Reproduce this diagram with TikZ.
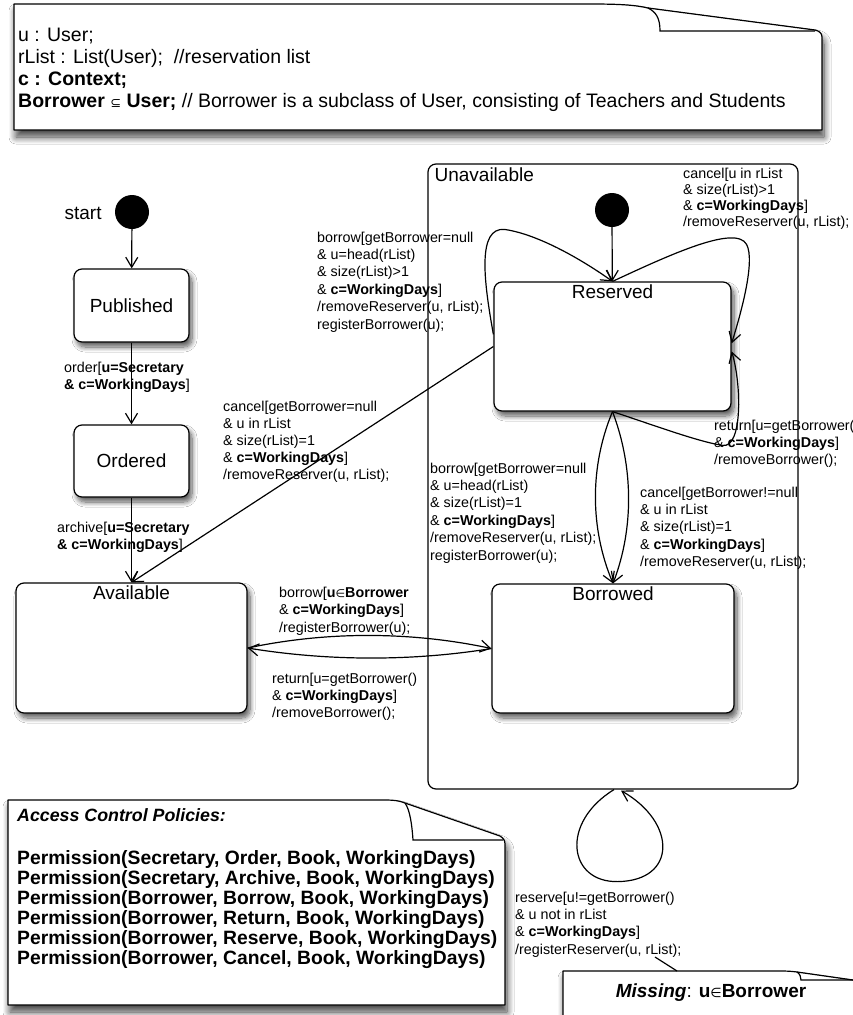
\documentclass[tikz,border=0pt]{standalone}
\usepackage{fontspec}
\setmainfont{Liberation Sans}
\newfontfamily\djv{DejaVu Sans}
\usetikzlibrary{arrows.meta,shadows.blur,calc}
\newcommand{\cwd}{\textbf{c=WorkingDays}}
\newcommand{\elem}{{\mdseries\djv\fontsize{11}{11}\selectfont ∈}}
\begin{document}
\begin{tikzpicture}[x=1pt,y=-1pt,
  lw/.style={line width=1.2pt},
  shad/.style={blur shadow={shadow xshift=3pt, shadow yshift=-5pt, shadow blur radius=5pt, shadow blur steps=10, shadow opacity=65}},
  noteshad/.style={blur shadow={shadow xshift=2pt, shadow yshift=-7pt, shadow blur radius=7pt, shadow blur steps=10, shadow opacity=75}},
  statebox/.style={draw, lw, rounded corners=8pt, fill=white, shad, font=\fontsize{19}{22}\selectfont},
  toplabel/.style={label={[anchor=north, inner sep=0pt, yshift=-3.5pt, font=\fontsize{19}{22}\selectfont]north:#1}},
  initdot/.style={circle, fill=black, minimum size=34pt, inner sep=0pt},
  arr/.style={lw, -{Straight Barb[length=10pt,width=12pt]}},
  lbl/.style={font=\fontsize{14.3}{17.4}\selectfont, align=left, anchor=north west, inner sep=0pt},
  notebox/.style={lw, fill=white, noteshad, line join=round}]
\useasboundingbox (0,0) rectangle (853,1015);
\clip (0,0) rectangle (853,1015);
\fill[white] (0,0) rectangle (853,1015);

% top note
\draw[notebox] (14,4) -- (590,4) .. controls (620,4) and (635,5) .. (648,8) -- (815,30) .. controls (819,31) and (822,33) .. (822,37) -- (822,130) -- (14,130) -- cycle;
\draw[lw] (648,8) .. controls (656,12) and (660,18) .. (660,31) -- (815,31);
\node[anchor=north west, inner sep=0pt, align=left, font=\fontsize{19.5}{21.7}\selectfont] (decl) at (18,28.3)
 {u : User;\\
  rList : List(User);\ \ //reservation list\\
  \textbf{c : Context;}\\
  \textbf{Borrower} {\djv\fontsize{13}{13}\selectfont ⊆} \textbf{User;} // Borrower is a subclass of User, consisting of Teachers and Students};

% composite state
\node[draw, lw, rounded corners=8pt, minimum width=370pt, minimum height=625pt, inner sep=0pt] (unav) at (613,476.5) {};
\node[anchor=north west, inner sep=0pt, font=\fontsize{19}{22}\selectfont] (unavlbl) at ($(unav.north west)+(7,4)$) {Unavailable};

% states
\node[initdot] (start) at (132,212) {};
\node[anchor=east, inner sep=0pt, font=\fontsize{19}{22}\selectfont] (startlbl) at ($(start.west)+(-13,1)$) {start};
\node[statebox, minimum width=115pt, minimum height=73pt] (pub) at (131.5,305.5) {Published};
\node[statebox, minimum width=115pt, minimum height=72pt] (ord) at (131.5,461) {Ordered};
\node[statebox, minimum width=231pt, minimum height=130pt, toplabel=Available] (avail) at (131.5,648) {};
\node[initdot] (init) at (612,210) {};
\node[statebox, minimum width=237pt, minimum height=129pt, toplabel=Reserved] (res) at (612.5,346.5) {};
\node[statebox, minimum width=242pt, minimum height=129pt, toplabel=Borrowed] (bor) at (613,648.5) {};

% transitions
\draw[arr] (start) -- (pub);
\draw[arr] (pub) -- (ord);
\draw[arr] (ord) -- (avail);
\draw[arr] (res.west) -- (avail.north);
\draw[arr] (init) -- (res);
\draw[arr] ($(res.north west)+(0,53)$) .. controls ($(res.north west)+(-10,-2)$) and ($(res.north west)+(-16,-54)$) .. ($(res.north west)+(11,-52)$) .. controls ($(res.north west)+(46,-47)$) and ($(res.north west)+(91,-20)$) .. (res.north);
\draw[arr] (res.north) .. controls ($(res.north east)+(-61,-27)$) and ($(res.north east)+(4,-57)$) .. ($(res.north east)+(15,-37)$) .. controls ($(res.north east)+(24,-20)$) and ($(res.north east)+(9,33)$) .. ($(res.north east)+(0,62)$);
\draw[arr] (res.south) .. controls ($(res.south)+(42.5,14)$) and ($(res.south)+(85.5,30)$) .. ($(res.north east)+(-9,164)$) .. controls ($(res.north east)+(11,167)$) and ($(res.north east)+(10,103)$) .. ($(res.north east)+(0,70)$);
\draw[arr] (res.south) .. controls +(-23,55) and +(-23,-55) .. (bor.north);
\draw[arr] (res.south) .. controls +(21,55) and +(21,-55) .. (bor.north);
\draw[arr] (avail.east) .. controls +(80,-17) and +(-80,-17) .. (bor.west);
\draw[arr] (bor.west) .. controls +(-80,13) and +(80,13) .. (avail.east);
\draw[arr] ($(unav.south)+(1,0)$) .. controls ($(unav.south)+(-53,33)$) and ($(unav.south)+(-45,93)$) .. ($(unav.south)+(5,92)$) .. controls ($(unav.south)+(64,91)$) and ($(unav.south)+(64,33)$) .. ($(unav.south)+(8,1)$);

% labels
\node[lbl] (lorder) at (64,361.5) {order[\textbf{u=Secretary}\\\textbf{\& c=WorkingDays}]};
\node[lbl] (larch) at (57,521.5) {archive[\textbf{u=Secretary}\\\textbf{\& c=WorkingDays}]};
\node[lbl] (lborrowloop) at (317,231.5) {borrow[getBorrower=null\\\& u=head(rList)\\\& size(rList)>1\\\& \cwd]\\/removeReserver(u, rList);\\registerBorrower(u);};
\node[lbl, font=\fontsize{14.3}{16}\selectfont] (lcanceltop) at (683,167.5) {cancel[u in rList\\\& size(rList)>1\\\& \cwd]\\/removeReserver(u, rList);};
\node[lbl, font=\fontsize{14.3}{17}\selectfont] (lcancell) at (223,400.5) {cancel[getBorrower=null\\\& u in rList\\\& size(rList)=1\\\& \cwd]\\/removeReserver(u, rList);};
\node[lbl] (lborrowr) at (430,462.5) {borrow[getBorrower=null\\\& u=head(rList)\\\& size(rList)=1\\\& \cwd]\\/removeReserver(u, rList);\\registerBorrower(u);};
\node[lbl] (lcancelr) at (640,486.5) {cancel[getBorrower!=null\\\& u in rList\\\& size(rList)=1\\\& \cwd]\\/removeReserver(u, rList);};
\node[lbl] (lreturntop) at (714,419.5) {return[u=getBorrower()\\\& \cwd]\\/removeBorrower();};
\node[lbl] (lborrowab) at (279,587) {borrow[\textbf{u\elem Borrower}\\\& \cwd]\\/registerBorrower(u);};
\node[lbl] (lreturnba) at (272,672.5) {return[u=getBorrower()\\\& \cwd]\\/removeBorrower();};
\node[lbl] (lreserve) at (515,891.5) {reserve[u!=getBorrower()\\\& u not in rList\\\& \cwd]\\/registerReserver(u, rList);};

% access control note
\draw[notebox] (8,800) -- (385,800) .. controls (395,800) and (400,801) .. (405,803) -- (500,836) .. controls (503,838) and (505,840) .. (505,844) -- (505,1005) -- (8,1005) -- cycle;
\draw[lw] (405,803) .. controls (410,810) and (412,825) .. (413,840) -- (503,840);
\node[anchor=north west, inner sep=0pt, font=\fontsize{17.8}{20}\selectfont\bfseries\itshape] (acptitle) at (17,808.4) {Access Control Policies:};
\node[anchor=north west, inner sep=0pt, align=left, font=\fontsize{19.3}{20}\selectfont\bfseries] (acp) at (17,849.9)
 {Permission(Secretary, Order, Book, WorkingDays)\\
  Permission(Secretary, Archive, Book, WorkingDays)\\
  Permission(Borrower, Borrow, Book, WorkingDays)\\
  Permission(Borrower, Return, Book, WorkingDays)\\
  Permission(Borrower, Reserve, Book, WorkingDays)\\
  Permission(Borrower, Cancel, Book, WorkingDays)};

% missing note
\draw[notebox] (563,1030) -- (563,971) -- (775,971) .. controls (785,971) and (790,971) .. (797,972) -- (860,981) -- (860,1030) -- cycle;
\draw[lw] (797,972) .. controls (800,974) and (801,977) .. (801,980) -- (858,980);
\node[inner sep=0pt, font=\fontsize{19}{22}\selectfont] (missing) at (711,993) {\textbf{\textit{Missing}}: \textbf{u{\mdseries\djv\fontsize{13}{13}\selectfont ∈}Borrower}};
\coordinate (anchA) at (655,957);
\coordinate (anchB) at (677,971);
\draw[lw] (anchA) -- (anchB);
\end{tikzpicture}
\end{document}
